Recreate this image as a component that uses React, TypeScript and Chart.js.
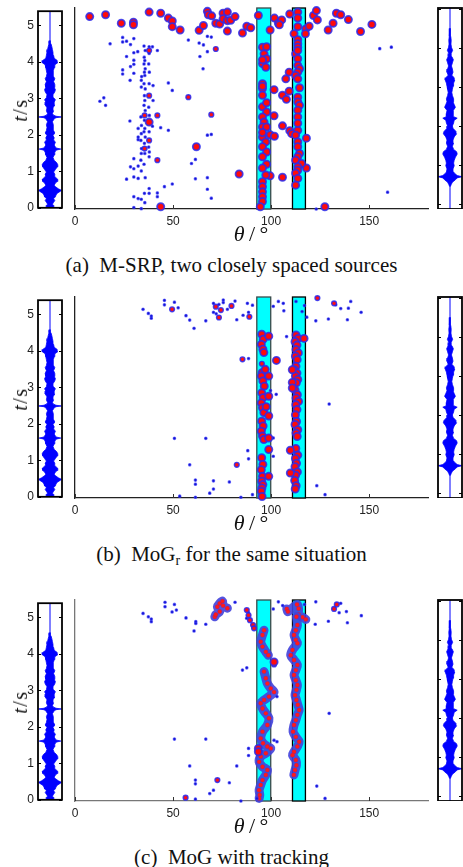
import React, { useEffect, useRef } from "react";
import { Chart, registerables } from "chart.js";
Chart.register(...registerables);
Chart.defaults.font.family = '"Liberation Sans", Arial, sans-serif';
Chart.defaults.color = "#222";

type P = [number, number];

// ---------- axes ----------
const THETA_MIN = 0;
const THETA_MAX = 180;
const T_MAX = 5.39;
const THETA_TICKS = [0, 50, 100, 150];
const T_TICKS = [0, 1, 2, 3, 4, 5];
const RIGHT_T_MIN = -0.128;
const RIGHT_T_MAX = 5.026;
const BAND_LO = [92.7, 110.9];
const BAND_HI = [99.8, 117.5];

// ---------- waveforms: [t, envelope amplitude] ----------
const LEFT_WAVE: P[] = [
  [0.0, 0.25], [0.05, 0.35], [0.1, 0.2], [0.15, 0.3], [0.2, 0.4], [0.25, 0.3], [0.3, 0.45], [0.35, 0.5],
  [0.4, 0.6], [0.45, 0.85], [0.48, 0.95], [0.52, 0.7], [0.58, 0.45], [0.62, 0.35], [0.68, 0.45], [0.72, 0.6],
  [0.78, 0.65], [0.82, 0.5], [0.88, 0.35], [0.92, 0.4], [0.98, 0.3], [1.05, 0.45], [1.12, 0.6], [1.18, 0.65],
  [1.24, 0.55], [1.3, 0.35], [1.38, 0.25], [1.45, 0.35], [1.52, 0.4], [1.58, 0.5], [1.61, 0.9], [1.64, 0.5],
  [1.72, 0.35], [1.8, 0.45], [1.86, 0.3], [1.92, 0.35], [1.98, 0.25], [2.05, 0.4], [2.12, 0.3], [2.2, 0.25],
  [2.28, 0.3], [2.36, 0.2], [2.44, 0.35], [2.47, 0.5], [2.49, 0.95], [2.51, 0.5], [2.54, 0.3], [2.58, 0.2],
  [2.66, 0.3], [2.74, 0.25], [2.82, 0.4], [2.9, 0.35], [2.96, 0.45], [3.02, 0.3], [3.1, 0.25], [3.18, 0.4],
  [3.24, 0.45], [3.3, 0.35], [3.38, 0.4], [3.46, 0.3], [3.54, 0.4], [3.6, 0.3], [3.68, 0.25], [3.76, 0.3],
  [3.84, 0.35], [3.92, 0.4], [3.98, 0.65], [4.04, 0.6], [4.1, 0.35], [4.18, 0.3], [4.26, 0.25], [4.34, 0.2],
  [4.42, 0.15], [4.5, 0.08], [4.58, 0.03],
];
const RIGHT_WAVE: P[] = [
  [0.45, 0.03], [0.5, 0.1], [0.56, 0.2], [0.62, 0.45], [0.67, 0.6], [0.7, 1.0], [0.73, 0.6], [0.78, 0.4],
  [0.82, 0.3], [0.9, 0.25], [0.98, 0.35], [1.05, 0.3], [1.12, 0.35], [1.2, 0.45], [1.28, 0.6], [1.34, 0.55],
  [1.4, 0.3], [1.48, 0.2], [1.56, 0.3], [1.64, 0.25], [1.72, 0.35], [1.8, 0.55], [1.86, 0.5], [1.94, 0.25],
  [2.0, 0.2], [2.08, 0.3], [2.15, 0.35], [2.2, 0.6], [2.24, 0.3], [2.32, 0.3], [2.4, 0.25], [2.48, 0.45],
  [2.55, 0.35], [2.62, 0.25], [2.7, 0.3], [2.78, 0.2], [2.86, 0.15], [2.94, 0.2], [3.02, 0.25], [3.1, 0.3],
  [3.18, 0.4], [3.24, 0.35], [3.3, 0.15], [3.38, 0.25], [3.46, 0.2], [3.54, 0.12], [3.62, 0.2], [3.7, 0.28],
  [3.78, 0.15], [3.86, 0.1], [3.94, 0.22], [4.02, 0.12], [4.1, 0.08], [4.2, 0.1], [4.3, 0.06], [4.4, 0.05],
  [4.5, 0.02],
];

// ---------- panel (a): M-SRP  [theta, t] ----------
const A_BIG: P[] = [
  [7.5, 5.16], [15.6, 5.21], [23.6, 4.98], [29.8, 5.01], [29.8, 4.94], [37.8, 5.28], [43.7, 5.25], [47.6, 5.12],
  [49.6, 5.04], [49.6, 4.89], [53.6, 4.8], [63.3, 4.79], [65.5, 4.92], [67.5, 5.3], [68, 5.21], [69.7, 5.18],
  [71.8, 4.98], [73.8, 4.96], [75.5, 5.25], [77.7, 5.28], [75.5, 5.1], [77.7, 5.05], [79.4, 5.06], [81.6, 5.16],
  [77.7, 4.77], [85.4, 4.72], [87.6, 4.9], [89.6, 4.86], [93.5, 5.19], [99.5, 4.8], [101.7, 5.12], [103.7, 4.98],
  [105.4, 5.07], [104.2, 4.94], [109.5, 5.23], [113.6, 5.28], [113.6, 5.12], [113.6, 4.89], [111.7, 4.7],
  [117.7, 4.83], [119.4, 4.9], [121.6, 5.19], [123.1, 5.32], [123.6, 5.07], [129.1, 4.8], [131.6, 4.98],
  [133.3, 5.25], [135.5, 5.21], [139.4, 5.08], [145.6, 4.76], [151.4, 4.95], [117.5, 4.7],
  [37.8, 2.33], [61.9, 1.67], [43.7, 0.06], [83.7, 0.94], [127.4, 0.06],
  [109.2, 3.67], [107.5, 3.49], [101.5, 3.2], [105.8, 3.05], [107.8, 2.94], [109.2, 3.16], [101.5, 2.5],
  [105.8, 2.23], [99.5, 1.99], [101.7, 1.95], [109.5, 2.1], [110.5, 2.02], [118, 1.9], [105.8, 0.85],
  [99.5, 0.89], [118, 1.1],
  [95.6, 4.34], [96.4, 4.16], [97.7, 4.03], [95.6, 3.9], [97.3, 3.8], [95.6, 3.36], [95.6, 3.23], [95.6, 3.29],
  [95.6, 2.74], [97.7, 2.6], [95.6, 2.47], [96.4, 2.33], [95.6, 2.2], [95.6, 1.93], [97.3, 1.8], [95.6, 1.67],
  [97.7, 1.53], [95.6, 1.4], [97.3, 0.91], [95.6, 0.73], [95.6, 0.6], [95.6, 0.46], [95.6, 0.33], [95.6, 0.2],
  [94.5, 0.06], [97.7, 1.2], [95.6, 1.1], [97.7, 2.85], [95.6, 3.05], [97.7, 2.2], [95.6, 2.05], [97.7, 4.35],
  [95.6, 4.0],
  [113.6, 4.54], [113.6, 4.43], [113.6, 4.34], [112.5, 4.16], [113.6, 4.03], [113.6, 3.85], [114.5, 3.76],
  [113.6, 3.67], [112.5, 3.58], [113.6, 3.49], [113.6, 3.0], [113.6, 2.87], [114.5, 2.78], [113.6, 2.65],
  [113.6, 2.47], [113.6, 2.11], [112.5, 1.98], [113.6, 1.8], [113.6, 1.67], [114.5, 1.49], [113.6, 1.4],
  [112.5, 1.31], [115.5, 1.22], [113.6, 1.13], [113.6, 1.04], [112.5, 0.96], [113.6, 0.82], [112.5, 0.64],
  [113.6, 4.25], [114.5, 3.25], [113.6, 2.3],
];
const A_MID: P[] = [
  [57.8, 3.0], [71.8, 4.29], [69.5, 2.53], [42, 2.51], [37.8, 4.25], [35.5, 2.51], [37.8, 1.84], [42, 1.31],
  [35.5, 1.62], [37.8, 3.04],
];
const A_SMALL: P[] = [
  [17.9, 4.43], [24.3, 4.6], [24.3, 4.48], [26.3, 4.5], [28.3, 4.41], [30, 4.57], [26.3, 4.09], [30, 4.19],
  [32, 4.22], [30, 3.99], [30, 3.88], [28.3, 3.82], [24.3, 3.73], [24.3, 3.62], [30, 3.64], [28.1, 3.45], [34, 3.55],
  [35.2, 4.37], [35.8, 4.25], [35.3, 4.07], [35.6, 3.98], [35.2, 3.89], [35.8, 3.76], [35.4, 3.67], [35.6, 3.58],
  [35.2, 3.36], [35.8, 3.22], [35.4, 3.04], [35.6, 2.91], [35.2, 2.78], [35.8, 2.64], [35.4, 2.38], [35.6, 2.16],
  [35.2, 2.07], [35.8, 1.93], [35.4, 1.76], [35.6, 1.49], [35.2, 1.2], [35.8, 0.84], [35.4, 0.42], [35.6, 0.17],
  [33.8, 3.45], [33.8, 3.27], [33.6, 2.47], [33.9, 2.24], [33.8, 2.02], [33.6, 1.84], [33.9, 1.62], [33.8, 1.49],
  [33.6, 1.31], [33.8, 1.02], [33.8, 0.26], [33.8, 0.01],
  [37.8, 4.35], [37.8, 4.17], [37.6, 3.89], [37.9, 3.67], [37.8, 3.36], [37.6, 2.73], [37.9, 2.51], [37.8, 2.07],
  [37.6, 1.66], [37.9, 1.53], [37.8, 1.4], [37.8, 0.55], [37.8, 0.42],
  [39.5, 4.35], [39.8, 3.31], [39.8, 2.91], [39.5, 2.22], [42, 4.25], [42, 0.43], [42, 0.33], [32.2, 2.16],
  [32.2, 1.93], [32.2, 1.86], [32.2, 1.15], [32.2, 0.82], [32.2, 0.28], [30, 1.35], [30, 1.08], [30, 0.86],
  [30, 0.33], [30, 0.04], [28, 2.36], [28.3, 1.13], [26.3, 0.8], [14.7, 2.98], [12.7, 2.89], [15.6, 2.78],
  [43.7, 2.18], [47.6, 2.11], [47.6, 3.38], [49.6, 3.18], [45.6, 0.6], [49.6, 0.67], [57.8, 4.53], [63.3, 4.45],
  [65.5, 4.4], [67.5, 4.63], [69.5, 4.61], [67.5, 4.22], [63.7, 4.09], [65.3, 3.76], [67.5, 1.98], [69.5, 2.0],
  [61.4, 1.33], [59.4, 1.22], [61.4, 0.81], [67.5, 0.84], [67.5, 0.53], [69.5, 0.29], [155.4, 4.3], [161.3, 4.34],
  [159.4, 0.45], [123, 0.0],
];

// ---------- panel (b): MoG_r ----------
const B_BIG: P[] = [
  [95.2, 4.39], [96.0, 4.26], [95.0, 4.12], [95.8, 3.99], [96.3, 3.9], [95.4, 3.36], [95.0, 3.27], [95.8, 3.14],
  [96.5, 3.0], [95.2, 2.82], [95.9, 2.69], [95.0, 2.55], [95.6, 2.42], [96.3, 2.29], [95.2, 2.06], [95.9, 1.93],
  [95.0, 1.79], [95.6, 1.66], [96.3, 1.57], [95.2, 1.08], [95.8, 0.9], [95.0, 0.76], [95.6, 0.58], [95.2, 0.45],
  [95.8, 0.36], [95.3, 0.27], [95.0, 0.18], [95.4, 0.04],
  [98.8, 4.34], [98.8, 3.27], [98.8, 2.73], [98.8, 2.2], [98.8, 1.61], [98.8, 1.3], [98.8, 0.58], [102.7, 3.69],
  [97.0, 3.45], [97.5, 2.45],
  [112.7, 4.37], [113.8, 4.28], [112.2, 4.19], [113.2, 4.1], [112.7, 3.98], [113.9, 3.89], [112.4, 3.8],
  [113.3, 3.71], [112.7, 3.53], [111.8, 3.44], [113.2, 3.35], [112.4, 3.27], [113.6, 3.18], [112.9, 3.09],
  [112.2, 2.9], [113.4, 2.77], [112.7, 2.68], [114.0, 2.59], [112.6, 2.5], [113.2, 2.37], [112.4, 2.23],
  [113.0, 2.05], [112.2, 1.97], [113.6, 1.83], [112.7, 1.74], [113.3, 1.65], [112.6, 1.33], [113.6, 1.15],
  [112.4, 1.06], [113.0, 0.93], [112.2, 0.84], [113.4, 0.7], [112.5, 0.61], [112.0, 0.47], [112.8, 0.33],
  [112.3, 0.24], [116.8, 4.28], [110.8, 3.44], [110.8, 3.1], [110.8, 2.95], [109.8, 1.28], [109.8, 0.67],
];
const B_MID: P[] = [
  [49.5, 5.06], [71.8, 5.13], [74.4, 5.04], [73.4, 4.84], [79.8, 5.15], [82.5, 0.89], [123.6, 5.36],
  [132.1, 5.22], [85.4, 3.72], [88.9, 4.86], [95.6, 4.2], [95.3, 3.6], [96.0, 3.2], [95.4, 2.6], [95.8, 1.85],
  [95.3, 0.65], [113.0, 4.0], [112.5, 3.6], [113.4, 2.8], [112.8, 2.15], [113.0, 1.2], [112.6, 0.4],
];
const B_SMALL: P[] = [
  [34.7, 5.06], [37.4, 4.95], [38.9, 4.88], [38.9, 4.82], [45.6, 5.3], [45.6, 5.18], [50.7, 5.25], [52.6, 5.1],
  [56.6, 4.89], [58.5, 4.77], [60.7, 4.55], [66.7, 4.75], [70.6, 5.22], [70.6, 4.98], [72, 4.94], [73.4, 5.19],
  [75.6, 5.31], [75.6, 5.24], [77.7, 5.06], [81.6, 5.28], [82.5, 4.78],
  [50.7, 1.6], [66.7, 1.6], [58.5, 0.89], [61.4, 0.48], [61.4, 0.37], [70.6, 0.46], [70.6, 0.24], [68.7, 0.13],
  [78.7, 0.43], [53.4, 0.05], [61.4, 0.02],
  [85.7, 4.9], [87.9, 5.22], [88.5, 4.98], [90.5, 5.17], [101.1, 5.14], [103.7, 5.27], [106.2, 5.22],
  [106.5, 5.02], [107.9, 4.33], [112.7, 5.27], [117, 5.16], [118.2, 4.85], [115.8, 5.0], [122.8, 4.75],
  [129.2, 4.8], [133, 5.18], [135.5, 5.08], [139.4, 5.09], [140.6, 5.27], [138.9, 4.78], [145.9, 4.98],
  [88.5, 3.74], [129.6, 2.52], [84.6, 0.02], [90.5, 0.09], [123.3, 0.33], [127.5, 0.09], [88.1, 1.27],
  [88.5, 1.05], [99.7, 2.88], [102.6, 2.78], [101.1, 1.61], [101.1, 1.12],
];

// ---------- panel (c): MoG with tracking ----------
const C_TRACK_1A: P[] = [
  [96.4, 4.58], [95.6, 4.45], [94.7, 4.27], [95.6, 4.14], [97.3, 4.0], [98.6, 3.91],
];
const C_TRACK_1B: P[] = [
  [96.4, 3.47], [97.3, 3.29], [98.1, 3.15], [99.8, 3.02], [101.5, 2.92], [98.9, 2.8], [96.4, 2.71], [94.7, 2.62],
  [95.6, 2.48], [97.3, 2.35], [98.9, 2.22], [98.1, 2.04], [95.6, 1.86], [94.7, 1.68], [95.9, 1.55], [98.1, 1.46],
  [99.8, 1.41], [97.3, 1.28], [94.7, 1.19], [93.9, 1.05], [95.6, 0.92], [98.1, 0.83], [97.3, 0.7], [95.6, 0.56],
  [94.7, 0.43], [93.9, 0.29], [94.2, 0.16], [93.9, 0.07],
];
const C_TRACK_2: P[] = [
  [112.9, 4.94], [113.4, 4.72], [112.6, 4.58], [111.7, 4.45], [112.6, 4.32], [113.4, 4.23], [110.9, 4.05],
  [110.0, 3.91], [111.7, 3.78], [113.4, 3.65], [112.6, 3.51], [111.7, 3.38], [112.6, 3.24], [113.4, 3.11],
  [112.9, 2.98], [112.2, 2.84], [112.9, 2.71], [113.6, 2.58], [114.3, 2.44], [113.4, 2.31], [112.6, 2.17],
  [111.7, 2.04], [111.2, 1.86], [112.6, 1.72], [114.3, 1.59], [113.4, 1.46], [111.7, 1.32], [110.9, 1.23],
  [112.6, 1.1], [112.9, 0.96], [112.2, 0.83], [111.6, 0.7],
];
const C_TRACK_3: P[] = [
  [71.3, 4.94], [71.8, 5.0], [73.8, 5.08], [72.6, 5.21], [73.8, 5.3], [75.2, 5.36], [75.5, 5.24], [77.7, 5.17],
];
const C_TRACK_4: P[] = [
  [108.0, 5.15], [108.6, 5.08], [113.2, 5.27], [114.0, 5.16], [114.0, 5.0], [116.0, 4.93], [117.7, 4.87],
];
const C_BIG: P[] = [[93.5, 1.41], [93.5, 1.32], [101.5, 3.73]];
const C_MID: P[] = [
  [56.4, 0.09], [72.6, 0.56], [132.1, 5.15], [101.5, 3.66], [87.6, 5.12], [88.5, 4.98], [89.2, 4.85],
  [90.8, 4.72], [91.3, 4.63], [133.5, 5.27],
];
const C_SMALL: P[] = [
  [34.7, 5.03], [37.4, 4.94], [38.9, 4.88], [38.9, 4.81], [45.9, 5.33], [45.9, 5.21], [50.7, 5.27], [49.5, 5.07],
  [51.7, 5.12], [56.6, 4.91], [61.6, 4.81], [61.6, 4.76], [60.7, 4.56], [66.7, 4.74],
  [50.7, 1.66], [66.7, 1.66], [58.5, 0.94], [61.4, 0.56], [61.4, 0.46], [70.6, 0.29], [68.7, 0.2], [78.7, 0.49],
  [61.4, 0.05], [82.5, 0.94],
  [81.6, 5.33], [101.1, 5.15], [103.7, 5.34], [105.9, 5.24], [117, 5.27], [122.8, 5.34], [122.5, 4.74],
  [129.2, 4.82], [135.5, 5.3], [134.7, 5.05], [138.4, 5.08], [138.9, 4.78], [146, 4.97],
  [85.4, 3.51], [87.6, 3.57], [129.6, 2.35], [84.6, 0.0], [92.8, 0.07], [123.3, 0.4], [127.5, 0.07],
  [101.5, 1.63], [103, 1.59], [88.5, 1.41], [88.5, 1.22], [103, 2.8], [88.5, 5.05], [87.5, 4.9],
];

// ---------- helpers ----------
const toXY = (arr: P[]) => arr.map(([x, y]) => ({ x, y }));
const polygon = (env: P[]) => [
  ...env.map(([t, a]) => ({ x: a, y: t })),
  ...env.slice().reverse().map(([t, a]) => ({ x: -a, y: t })),
];

const bandsPlugin = {
  id: "bands",
  beforeDatasetsDraw(chart: any) {
    const { ctx, scales } = chart;
    const x = scales.x, y = scales.y;
    const top = y.getPixelForValue(T_MAX), bot = y.getPixelForValue(0);
    ctx.save();
    BAND_LO.forEach((lo, i) => {
      const x0 = x.getPixelForValue(lo), x1 = x.getPixelForValue(BAND_HI[i]);
      ctx.fillStyle = "#00ffff";
      ctx.fillRect(x0, top, x1 - x0, bot - top);
      ctx.strokeStyle = i === 0 ? "#3a4a4a" : "#000";
      ctx.lineWidth = 1.3;
      ctx.strokeRect(x0, top, x1 - x0, bot - top);
    });
    ctx.restore();
  },
};

const xTicksPlugin = {
  id: "xticks",
  afterDraw(chart: any) {
    const { ctx, chartArea, scales } = chart;
    ctx.save();
    ctx.strokeStyle = "#333";
    ctx.lineWidth = 1;
    THETA_TICKS.forEach((v) => {
      const px = Math.round(scales.x.getPixelForValue(v)) + 0.5;
      ctx.beginPath();
      ctx.moveTo(px, chartArea.bottom);
      ctx.lineTo(px, chartArea.bottom - 4);
      ctx.stroke();
    });
    ctx.restore();
  },
};

const framePlugin = {
  id: "frame",
  afterDraw(chart: any) {
    const { ctx, chartArea: a, scales } = chart;
    ctx.save();
    ctx.strokeStyle = "#000";
    ctx.lineWidth = 1;
    T_TICKS.forEach((v) => {
      const py = Math.round(scales.y.getPixelForValue(v)) + 0.5;
      ctx.beginPath();
      ctx.moveTo(a.left, py);
      ctx.lineTo(a.left + 3, py);
      ctx.moveTo(a.right - 3, py);
      ctx.lineTo(a.right, py);
      ctx.stroke();
    });
    ctx.lineWidth = 1.8;
    ctx.strokeRect(a.left, a.top, a.right - a.left, a.bottom - a.top);
    ctx.restore();
  },
};

const baseOpts = {
  responsive: false,
  animation: false,
  devicePixelRatio: 1,
  events: [],
  plugins: { legend: { display: false }, tooltip: { enabled: false } },
};

function mainConfig(p: any) {
  const ds: any[] = [];
  ds.push({
    data: toXY(p.big), pointRadius: 3.6, pointBackgroundColor: "#ff0a0a",
    pointBorderColor: "rgba(45,45,235,0.85)", pointBorderWidth: 1.8, clip: false,
  });
  ds.push({
    data: toXY(p.mid), pointRadius: 2.4, pointBackgroundColor: "#ff1010",
    pointBorderColor: "rgba(40,40,240,0.85)", pointBorderWidth: 1.4, clip: false,
  });
  ds.push({
    data: toXY(p.small), pointRadius: 1.3, pointBackgroundColor: "#1515c8",
    pointBorderColor: "rgba(50,50,255,0.6)", pointBorderWidth: 1.1, clip: false,
  });
  p.tracks.forEach((tr: P[]) => {
    ds.push({
      data: toXY(tr), showLine: true, tension: 0.3, borderColor: "rgba(65,65,220,0.9)", borderWidth: 9,
      borderCapStyle: "round", borderJoinStyle: "round", pointRadius: 2.2, pointBackgroundColor: "#ff1a1a",
      pointBorderColor: "rgba(80,40,200,0.4)", pointBorderWidth: 0.6, clip: false,
    });
  });
  return {
    type: "scatter",
    data: { datasets: ds },
    options: {
      ...baseOpts,
      layout: { padding: { top: 8, right: 12, left: 0, bottom: 0 } },
      scales: {
        x: {
          type: "linear", min: THETA_MIN, max: THETA_MAX,
          afterBuildTicks: (s: any) => { s.ticks = THETA_TICKS.map((v) => ({ value: v })); },
          afterFit: (s: any) => { s.height = 18; },
          grid: { display: false, drawTicks: false },
          border: { display: true, color: p.axis, width: 1.3 },
          ticks: { padding: 5, color: "#222", font: { size: 12 } },
        },
        y: {
          type: "linear", min: 0, max: T_MAX,
          afterFit: (s: any) => { s.width = 10; },
          grid: { display: false, drawTicks: false },
          border: { display: true, color: p.axis, width: 1.3 },
          ticks: { display: false },
        },
      },
    },
    plugins: [bandsPlugin, xTicksPlugin],
  };
}

function stripConfig(env: P[], yMin: number, yMax: number, labels: boolean, pad: any) {
  return {
    type: "scatter",
    data: {
      datasets: [
        {
          data: polygon(env), showLine: true, fill: "shape", tension: 0, backgroundColor: "#0000ff",
          borderColor: "#0000ff", borderWidth: 0.8, pointRadius: 0,
        },
        {
          data: [{ x: 0, y: yMin }, { x: 0, y: yMax }], showLine: true, borderColor: "#0000ff",
          borderWidth: 1, pointRadius: 0,
        },
      ],
    },
    options: {
      ...baseOpts,
      layout: { padding: pad },
      scales: {
        x: { type: "linear", min: -1, max: 1, display: false },
        y: labels
          ? {
              type: "linear", min: yMin, max: yMax,
              afterBuildTicks: (s: any) => { s.ticks = T_TICKS.map((v) => ({ value: v })); },
              afterFit: (s: any) => { s.width = 38; },
              grid: { display: false, drawTicks: false },
              border: { display: false },
              ticks: { padding: 4, color: "#222", font: { size: 12 } },
            }
          : { type: "linear", min: yMin, max: yMax, display: false },
      },
    },
    plugins: [framePlugin],
  };
}

function ChartCanvas({ left, top, width, height, build }: any) {
  const ref = useRef<HTMLCanvasElement | null>(null);
  useEffect(() => {
    if (!ref.current) return;
    const chart = new Chart(ref.current, build());
    return () => chart.destroy();
  }, []);
  return (
    <canvas ref={ref} width={width} height={height}
      style={{ position: "absolute", left, top, width, height, display: "block" }} />
  );
}

const serif = '"Liberation Serif", "Times New Roman", serif';

const PANELS = [
  {
    B: 209, big: A_BIG, mid: A_MID, small: A_SMALL, tracks: [] as P[][], axis: "#222",
    caption: <span>(a)&ensp;M-SRP, two closely spaced sources</span>,
  },
  {
    B: 498, big: B_BIG, mid: B_MID, small: B_SMALL, tracks: [] as P[][], axis: "#222",
    caption: <span>(b)&ensp;MoG<sub style={{ fontSize: 14, verticalAlign: "-4px", lineHeight: 0 }}>r</sub> for the same situation</span>,
  },
  {
    B: 801, big: C_BIG, mid: C_MID, small: C_SMALL, tracks: [C_TRACK_1A, C_TRACK_1B, C_TRACK_2, C_TRACK_3, C_TRACK_4], axis: "#777",
    caption: <span>(c)&ensp;MoG with tracking</span>,
  },
];

function Panel({ p }: any) {
  const B = p.B;
  return (
    <>
      <ChartCanvas left={0} top={B - 209} width={66} height={219}
        build={() => stripConfig(LEFT_WAVE, 0, T_MAX, true, { top: 8, bottom: 10, right: 4, left: 0 })} />
      <ChartCanvas left={65} top={B - 209} width={375} height={227} build={() => mainConfig(p)} />
      <ChartCanvas left={436} top={B - 209} width={27} height={209}
        build={() => stripConfig(RIGHT_WAVE, RIGHT_T_MIN, RIGHT_T_MAX, false, { top: 8, bottom: 0, right: 1, left: 2 })} />
      <div style={{
        position: "absolute", left: 20, top: B - 99, transform: "translate(-50%,-50%) rotate(-90deg)",
        fontFamily: serif, fontSize: 20, letterSpacing: 1.5, whiteSpace: "nowrap", color: "#111", lineHeight: "20px",
      }}>
        <i>t</i>/s
      </div>
      <div style={{
        position: "absolute", left: 251, top: B + 25, transform: "translate(-50%,-50%)",
        fontFamily: serif, fontSize: 22, whiteSpace: "nowrap", color: "#111", lineHeight: "22px",
      }}>
        <i>θ</i>&thinsp;/&thinsp;°
      </div>
      <div style={{
        position: "absolute", left: 0, width: 463, top: B + 46, textAlign: "center",
        fontFamily: serif, fontSize: 21, lineHeight: "20px", whiteSpace: "nowrap", color: "#111",
      }}>
        {p.caption}
      </div>
    </>
  );
}

export default function App() {
  return (
    <div style={{ position: "absolute", left: 0, top: 0, width: 463, height: 867, background: "#fff", overflow: "hidden" }}>
      {PANELS.map((p, i) => <Panel key={i} p={p} />)}
    </div>
  );
}
